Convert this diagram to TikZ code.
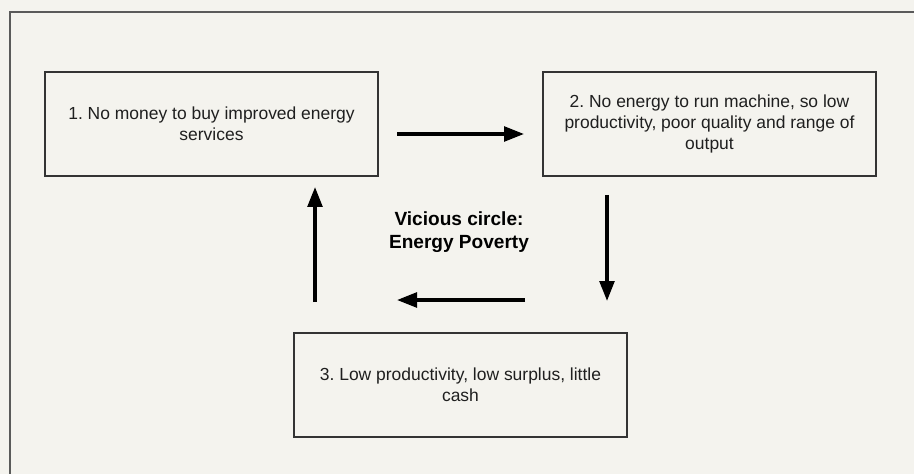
\documentclass[tikz,border=0pt]{standalone}
\usepackage{fontspec}
\setmainfont{Liberation Sans}
\usetikzlibrary{arrows.meta}
\definecolor{bgc}{HTML}{F4F3EE}
\definecolor{framec}{HTML}{5A5A5A}
\definecolor{boxc}{HTML}{333333}
\frenchspacing
\begin{document}
\begin{tikzpicture}[x=0.75pt,y=-0.75pt,
  stepbox/.style={draw=boxc,line width=1.1pt,minimum width=333*0.75pt,minimum height=104*0.75pt,
    align=center,inner sep=0pt,font=\fontsize{13.1}{15.75}\selectfont\frenchspacing,text=black!88},
  flow/.style={line width=2.6pt,-{Triangle[length=15pt,width=11pt]}},
  title/.style={align=center,font=\fontsize{14.3}{17}\selectfont\bfseries\frenchspacing}]
\fill[bgc] (0,0) rectangle (914,474);
\useasboundingbox (0,0) rectangle (914,474);
\draw[framec,line width=1.5pt] (930,12) -- (10,12) -- (10,490);
\node[stepbox] (b1) at (211.5,124) {1. No money to buy improved energy\\services};
\node[stepbox] (b2) at (709.5,124) {2. No energy to run machine, so low\\productivity, poor quality and range of\\output};
\node[stepbox] (b3) at (460.5,385) {3. Low productivity, low surplus, little\\cash};
\node[title] (t) at (459,232) {Vicious circle:\\Energy Poverty};
\coordinate (r1) at (397,134); \coordinate (r2) at (524,134);
\coordinate (d1) at (607,195); \coordinate (d2) at (607,301);
\coordinate (l1) at (525,300); \coordinate (l2) at (397,300);
\coordinate (u1) at (315,302); \coordinate (u2) at (315,187);
\draw[flow] (r1) -- (r2);
\draw[flow] (d1) -- (d2);
\draw[flow] (l1) -- (l2);
\draw[flow] (u1) -- (u2);
\end{tikzpicture}
\end{document}
